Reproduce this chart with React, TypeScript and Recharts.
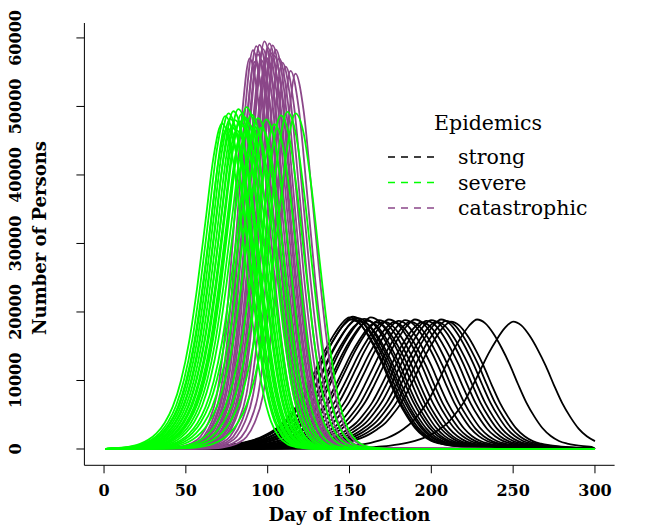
import React from "react";
import { LineChart, Line, XAxis, YAxis } from "recharts";

const dayTicks = [0, 50, 100, 150, 200, 250, 300];
const personTicks = [0, 10000, 20000, 30000, 40000, 50000, 60000];

// shape of a "strong" epidemic: days from peak -> share of peak
const strongOffsets = [-110, -105, -100, -95, -90, -85, -80, -75, -70, -65, -60, -55, -50, -45, -40, -35, -30, -25, -20, -15, -10, -5, 0, 5, 10, 15, 20, 25, 30, 35, 40, 45, 50, 55, 60, 65, 70, 75, 80, 85, 90, 95, 100, 105, 110];
const strongShape = [0.003, 0.004, 0.006, 0.008, 0.011, 0.015, 0.02, 0.027, 0.036, 0.048, 0.064, 0.085, 0.115, 0.155, 0.205, 0.28, 0.37, 0.49, 0.62, 0.75, 0.86, 0.95, 1.0, 0.97, 0.89, 0.78, 0.65, 0.5, 0.36, 0.25, 0.16, 0.1, 0.062, 0.042, 0.03, 0.022, 0.016, 0.012, 0.009, 0.007, 0.005, 0.004, 0.003, 0.002, 0.001];

const severeOffsets = [-65, -60, -55, -50, -45, -40, -35, -30, -25, -20, -15, -10, -5, 0, 5, 10, 15, 20, 25, 30, 35, 40, 45, 50, 55, 60];
const severeShape = [0.003, 0.005, 0.009, 0.016, 0.028, 0.048, 0.08, 0.13, 0.21, 0.33, 0.5, 0.7, 0.9, 1.0, 0.94, 0.77, 0.55, 0.34, 0.18, 0.085, 0.037, 0.015, 0.006, 0.003, 0.001, 0.0005];

const catastrophicOffsets = [-55, -50, -45, -40, -35, -30, -25, -20, -15, -10, -5, 0, 5, 10, 15, 20, 25, 30, 35, 40, 45, 50, 55];
const catastrophicShape = [0.001, 0.002, 0.004, 0.008, 0.016, 0.032, 0.07, 0.14, 0.3, 0.55, 0.84, 1.0, 0.9, 0.68, 0.45, 0.26, 0.13, 0.06, 0.026, 0.011, 0.005, 0.002, 0.001];

// peak day and peak size of every simulated run
const strongPeakDay = [150, 151, 152, 154, 155, 157, 159, 161, 163, 166, 168, 171, 174, 177, 180, 184, 187, 190, 194, 197, 200, 203, 206, 209, 212, 228, 250];
const strongPeak = [19200, 18900, 19300, 18800, 19100, 18600, 19000, 18700, 19200, 18500, 18800, 18600, 18900, 18500, 18700, 18800, 18600, 18900, 18500, 18700, 18800, 18600, 18900, 18700, 18600, 18900, 18600];

const severePeakDay = [72, 74, 75, 76, 77, 78, 79, 80, 81, 82, 83, 84, 85, 86, 87, 88, 90, 92, 94, 96, 99, 104, 108, 112, 117];
const severePeak = [47500, 48600, 46800, 49000, 48200, 47000, 49300, 48000, 46500, 49600, 47800, 48900, 47200, 48400, 49900, 47600, 48800, 47000, 48300, 46900, 48100, 47400, 48700, 49200, 49000];

const catastrophicPeakDay = [89, 91, 92, 93, 94, 95, 96, 97, 98, 99, 100, 101, 102, 103, 104, 105, 107, 109, 111, 114, 117];
const catastrophicPeak = [57000, 58200, 56500, 58800, 57600, 59000, 56800, 58400, 59500, 57200, 58600, 59200, 57800, 58900, 57400, 58300, 57000, 56400, 55800, 55200, 54800];

const FONT = "'DejaVu Serif', serif";

function buildCurve(peakDay: number, peak: number, offsets: number[], shape: number[]) {
  const pts = [{ day: 1, n: 0 }];
  offsets.forEach((o, i) => {
    const day = peakDay + o;
    if (day > 1 && day <= 300) pts.push({ day, n: Math.round(peak * shape[i]) });
  });
  if (pts[pts.length - 1].day < 300) pts.push({ day: 300, n: 0 });
  return pts;
}

const groups = [
  { name: "strong", color: "#000000", days: strongPeakDay, peaks: strongPeak, offsets: strongOffsets, shape: strongShape },
  { name: "catastrophic", color: "#8B4789", days: catastrophicPeakDay, peaks: catastrophicPeak, offsets: catastrophicOffsets, shape: catastrophicShape },
  { name: "severe", color: "#00FF00", days: severePeakDay, peaks: severePeak, offsets: severeOffsets, shape: severeShape },
];

const legendItems = [
  { label: "strong", color: "#000000" },
  { label: "severe", color: "#00FF00" },
  { label: "catastrophic", color: "#8B4789" },
];

const XTick = (props: any) => (
  <text x={props.x} y={496} textAnchor="middle" fontFamily={FONT} fontWeight="bold" fontSize={16} fill="#000">
    {props.payload.value}
  </text>
);

const YTick = (props: any) => (
  <text
    x={21}
    y={props.y}
    transform={`rotate(-90, 21, ${props.y})`}
    textAnchor="middle"
    fontFamily={FONT}
    fontWeight="bold"
    fontSize={16}
    fill="#000"
  >
    {props.payload.value}
  </text>
);

export default function App() {
  return (
    <div style={{ position: "absolute", left: 0, top: 0, width: 647, height: 527, background: "#fff" }}>
      <LineChart width={647} height={527} margin={{ top: 23, right: 32.4, bottom: 21.7, left: 24.4 }}>
        <XAxis
          type="number"
          dataKey="day"
          domain={[-12, 312]}
          ticks={dayTicks}
          allowDataOverflow
          height={40}
          tickSize={8}
          tick={<XTick />}
          axisLine={{ stroke: "#000", strokeWidth: 1 }}
          tickLine={{ stroke: "#000", strokeWidth: 1 }}
        />
        <YAxis
          type="number"
          domain={[-2380, 62180]}
          ticks={personTicks}
          allowDataOverflow
          width={60}
          tickSize={8}
          tick={<YTick />}
          axisLine={{ stroke: "#000", strokeWidth: 1 }}
          tickLine={{ stroke: "#000", strokeWidth: 1 }}
        />
        {groups.map((g) =>
          g.days.map((d, i) => (
            <Line
              key={`${g.name}-${i}`}
              data={buildCurve(d, g.peaks[i], g.offsets, g.shape)}
              dataKey="n"
              type="monotone"
              stroke={g.color}
              strokeWidth={1.8}
              dot={false}
              activeDot={false}
              isAnimationActive={false}
            />
          ))
        )}
      </LineChart>
      <svg width={647} height={527} style={{ position: "absolute", left: 0, top: 0, pointerEvents: "none" }}>
        <text x={349.5} y={521} textAnchor="middle" fontFamily={FONT} fontWeight="bold" fontSize={18}>
          Day of Infection
        </text>
        <text x={46} y={238} transform="rotate(-90, 46, 238)" textAnchor="middle" fontFamily={FONT} fontWeight="bold" fontSize={18}>
          Number of Persons
        </text>
        <text x={488} y={130} textAnchor="middle" fontFamily={FONT} fontSize={20.5}>
          Epidemics
        </text>
        {legendItems.map((it, i) => (
          <g key={it.label}>
            <line x1={388} x2={435} y1={157 + i * 25.5} y2={157 + i * 25.5} stroke={it.color} strokeWidth={1.7} strokeDasharray="7 6" />
            <text x={458} y={164 + i * 25.5} fontFamily={FONT} fontSize={20.5}>
              {it.label}
            </text>
          </g>
        ))}
      </svg>
    </div>
  );
}
